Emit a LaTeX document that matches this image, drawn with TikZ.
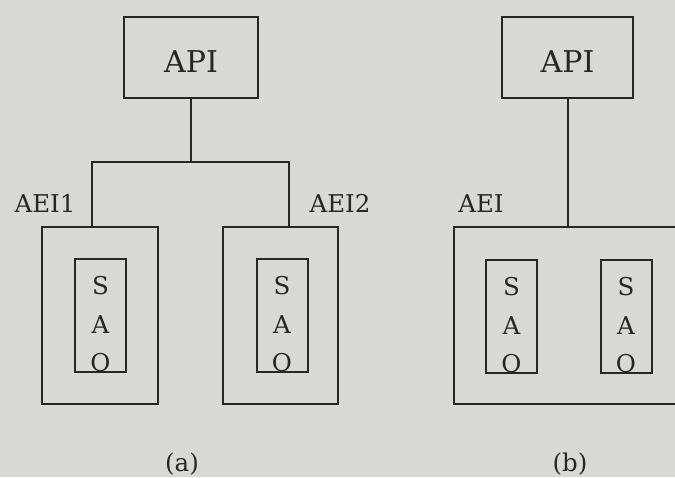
\documentclass[tikz,border=0pt]{standalone}
\usepackage{fontspec}
\setmainfont{DejaVu Serif}
\usepackage{tikz}
\usetikzlibrary{calc}

\definecolor{paper}{RGB}{216,216,213}
\definecolor{ink}{RGB}{38,38,38}

\tikzset{
  box/.style={draw=ink, line width=2pt, inner sep=0pt},
  apibox/.style={box, minimum height=81pt, text=ink, text height=30pt, text depth=0pt,
    font=\fontsize{30}{32}\selectfont},
  saobox/.style={box, minimum width=51pt, minimum height=113pt},
  tag/.style={text=ink, font=\fontsize{24.5}{26}\selectfont, anchor=base, inner sep=0pt},
  letter/.style={tag, font=\fontsize{24.5}{26}\selectfont},
  wire/.style={draw=ink, line width=2pt}
}

\begin{document}
\begin{tikzpicture}[x=1pt,y=-1pt]
  \path[use as bounding box, fill=paper] (0,0) rectangle (675,477);
  \clip (0,0) rectangle (675,477);
  % (a) two entities
  \node[apibox, minimum width=134pt] (api1) at (191,57.5) {API};
  \node[box, minimum width=116pt, minimum height=177pt] (aei1) at (100,315.5) {};
  \node[box, minimum width=115pt, minimum height=177pt] (aei2) at (280.5,315.5) {};
  \node[saobox] (sao1) at (100.5,315.5) {};
  \node[saobox] (sao2) at (282,315.5) {};
  \coordinate (j1) at (92,162);
  \coordinate (j2) at (289,162);
  \draw[wire] (api1.south) -- (api1.south |- j1);
  \draw[wire] (aei1.north -| j1) |- (j2) -- (j2 |- aei2.north);
  \node[tag] (lab1) at (45,212) {AEI1};
  \node[tag] (lab2) at (340,212) {AEI2};
  \node[tag] (capa) at (182,471) {(a)};
  % (b) one entity
  \node[apibox, minimum width=131pt] (api2) at (567.5,57.5) {API};
  \node[box, minimum width=236pt, minimum height=177pt] (aei) at (572,315.5) {};
  \node[saobox] (sao3) at (511.5,316.5) {};
  \node[saobox] (sao4) at (626,316.5) {};
  \draw[wire] (api2.south) -- (api2.south |- aei.north);
  \node[tag] (lab3) at (481,212) {AEI};
  \node[tag] (capb) at (570,471) {(b)};
  % letters in the boxes
  \foreach \b in {sao1,sao2,sao3,sao4} {
    \node[letter] (\b-s) at ($(\b.south)+(0,-79)$) {S};
    \node[letter] (\b-a) at ($(\b.south)+(0,-40)$) {A};
    \node[letter] (\b-o) at ($(\b.south)+(0,-1.5)$) {O};
  }
\end{tikzpicture}
\end{document}
